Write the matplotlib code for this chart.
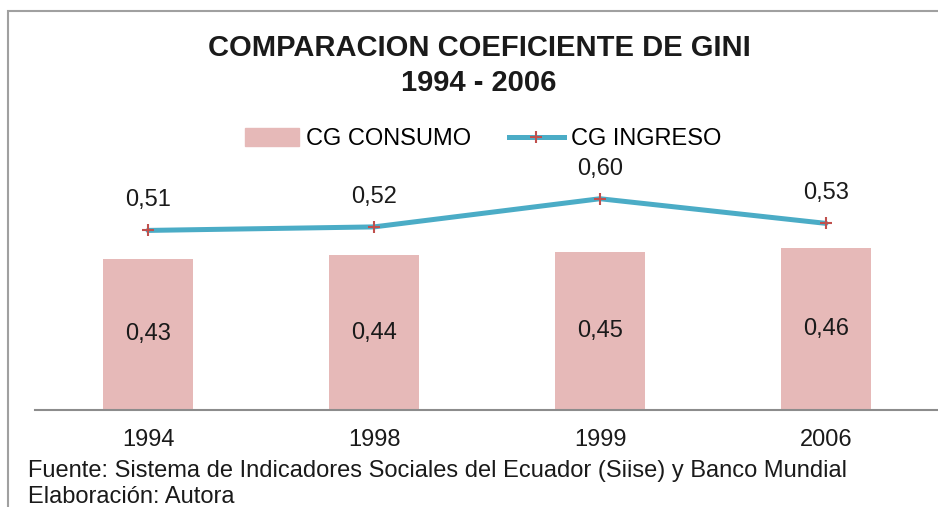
import matplotlib
matplotlib.use("Agg")
import matplotlib.pyplot as plt
from matplotlib.patches import Rectangle
from matplotlib.lines import Line2D

years = ["1994", "1998", "1999", "2006"]
cg_consumo = [0.43, 0.44, 0.45, 0.46]
cg_ingreso = [0.51, 0.52, 0.60, 0.53]

BAR = "#E6B9B8"
LINE = "#4BACC6"
MARK = "#C0504D"
INK = "#1a1a1a"

plt.rcParams["font.family"] = ["Liberation Sans", "DejaVu Sans"]

fig = plt.figure(figsize=(9.38, 5.07), dpi=100)
ax = fig.add_axes([35 / 938, 1 - 410 / 507, 904 / 938, 250 / 507])

x = range(len(years))
ax.bar(x, cg_consumo, width=0.4, color=BAR, zorder=2)
ax.plot(x, cg_ingreso, color=LINE, linewidth=3.6, solid_capstyle="round", zorder=3)
ax.plot(x, cg_ingreso, linestyle="none", marker="+", markersize=8,
        markeredgewidth=1.5, color=MARK, zorder=4)

for i, v in enumerate(cg_consumo):
    ax.text(i, v / 2, f"{v:.2f}".replace(".", ","), ha="center", va="center",
            fontsize=17, color=INK)
for i, v in enumerate(cg_ingreso):
    ax.text(i, v + 0.085, f"{v:.2f}".replace(".", ","), ha="center", va="center",
            fontsize=17, color=INK)

ax.set_xlim(-0.5, len(years) - 0.5)
ax.set_ylim(0, 0.71)
ax.set_xticks(list(x))
ax.set_xticklabels(years, fontsize=17, color=INK)
ax.tick_params(axis="x", length=0, pad=14)
ax.set_yticks([])
for s in ("top", "right", "left"):
    ax.spines[s].set_visible(False)
ax.spines["bottom"].set_color("#8c8c8c")
ax.spines["bottom"].set_linewidth(1.5)

fig.text(479 / 938, 1 - 48 / 507, "COMPARACION COEFICIENTE DE GINI",
         ha="center", va="center", fontsize=21, fontweight="bold", color=INK)
fig.text(479 / 938, 1 - 83 / 507, "1994 - 2006",
         ha="center", va="center", fontsize=21, fontweight="bold", color=INK)

handles = [Rectangle((0, 0), 1, 1, color=BAR),
           Line2D([0], [0], color=LINE, linewidth=3.6, marker="+", markersize=8,
                  markeredgecolor=MARK, markeredgewidth=1.5)]
fig.legend(handles, ["CG CONSUMO", "CG INGRESO"], loc="center",
           bbox_to_anchor=(483 / 938, 1 - 139 / 507), ncol=2, frameon=False,
           fontsize=17, handlelength=2.3, handleheight=0.8, columnspacing=1.6,
           handletextpad=0.3)

fig.text(28 / 938, 1 - 471 / 507,
         "Fuente: Sistema de Indicadores Sociales del Ecuador (Siise) y Banco Mundial",
         ha="left", va="center", fontsize=17, color=INK)
fig.text(28 / 938, 1 - 497 / 507, "Elaboración: Autora",
         ha="left", va="center", fontsize=17, color=INK)

fig.patches.append(Rectangle((8 / 938, -0.2), 1.2, 1 - 11 / 507 + 0.2,
                             transform=fig.transFigure, fill=False,
                             edgecolor="#a0a0a0", linewidth=1.5))

fig.savefig("out.png", dpi=100, facecolor="white")
